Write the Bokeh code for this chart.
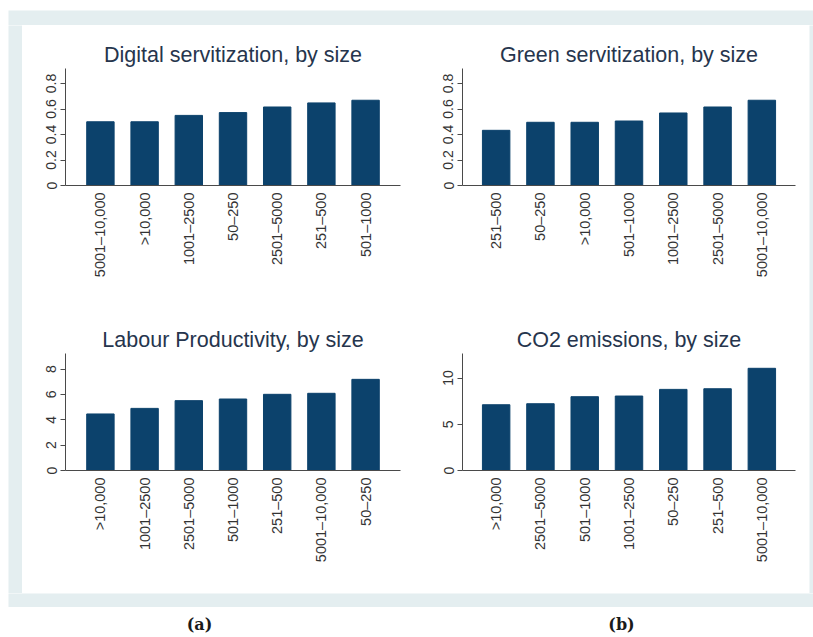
import math
from bokeh.plotting import figure
from bokeh.layouts import row, column
from bokeh.models import FactorRange, Range1d, FixedTicker, Label
from bokeh.embed import file_html
from bokeh.resources import INLINE

# ---------------- data ----------------
digital_title = "Digital servitization, by size"
digital_labels = ["5001–10,000", ">10,000", "1001–2500", "50–250", "2501–5000", "251–500", "501–1000"]
digital_values = [0.50, 0.50, 0.55, 0.572, 0.616, 0.648, 0.669]
digital_ticks = [0, 0.2, 0.4, 0.6, 0.8]
digital_tick_labels = ["0", "0.2", "0.4", "0.6", "0.8"]
digital_ymax = 0.918

green_title = "Green servitization, by size"
green_labels = ["251–500", "50–250", ">10,000", "501–1000", "1001–2500", "2501–5000", "5001–10,000"]
green_values = [0.433, 0.496, 0.496, 0.506, 0.569, 0.616, 0.669]
green_ticks = [0, 0.2, 0.4, 0.6, 0.8]
green_tick_labels = ["0", "0.2", "0.4", "0.6", "0.8"]
green_ymax = 0.918

labour_title = "Labour Productivity, by size"
labour_labels = [">10,000", "1001–2500", "2501–5000", "501–1000", "251–500", "5001–10,000", "50–250"]
labour_values = [4.46, 4.90, 5.51, 5.64, 6.01, 6.09, 7.19]
labour_ticks = [0, 2, 4, 6, 8]
labour_tick_labels = ["0", "2", "4", "6", "8"]
labour_ymax = 9.23

co2_title = "CO2 emissions, by size"
co2_labels = [">10,000", "2501–5000", "501–1000", "1001–2500", "50–250", "251–500", "5001–10,000"]
co2_values = [7.11, 7.22, 7.98, 8.05, 8.77, 8.84, 11.05]
co2_ticks = [0, 5, 10]
co2_tick_labels = ["0", "5", "10"]
co2_ymax = 12.65

panel_tags = ["(a)", "(b)"]

# ---------------- style ----------------
BAR = "#0c426c"
FRAME = "#e4eef0"
TITLE_COLOR = "#26354d"
TEXT_COLOR = "#333333"
AXIS_COLOR = "#4a4a4a"
FONT = "Liberation Sans"


def panel(title, labels, values, ticks, tick_labels, ymax, width, height,
          bl, br, bt, bb, pad):
    xr = FactorRange(factors=labels, range_padding=pad, range_padding_units="absolute")
    p = figure(x_range=xr, y_range=Range1d(0, ymax), width=width, height=height,
               output_backend="svg", toolbar_location=None,
               min_border_left=bl, min_border_right=br,
               min_border_top=bt, min_border_bottom=bb,
               title=title)
    p.vbar(x=labels, top=values, width=0.62, fill_color=BAR, line_color=BAR)
    p.background_fill_color = "white"
    p.border_fill_color = "white"
    p.outline_line_color = None
    p.xgrid.grid_line_color = None
    p.ygrid.grid_line_color = None

    p.title.text_font = FONT
    p.title.text_font_size = "21.5px"
    p.title.text_font_style = "normal"
    p.title.text_color = TITLE_COLOR
    p.title.align = "center"
    p.title.standoff = 4

    xa = p.xaxis[0]
    xa.axis_line_color = AXIS_COLOR
    xa.axis_line_width = 1
    xa.major_tick_line_color = None
    xa.major_tick_out = 0
    xa.major_tick_in = 0
    xa.minor_tick_line_color = None
    xa.major_label_orientation = math.pi / 2
    xa.major_label_standoff = 7
    xa.major_label_text_font = FONT
    xa.major_label_text_font_size = "14.5px"
    xa.major_label_text_color = TEXT_COLOR

    ya = p.yaxis[0]
    ya.ticker = FixedTicker(ticks=ticks)
    ya.major_label_overrides = {t: s for t, s in zip(ticks, tick_labels)}
    ya.axis_line_color = AXIS_COLOR
    ya.axis_line_width = 1
    ya.major_tick_line_color = AXIS_COLOR
    ya.major_tick_out = 5
    ya.major_tick_in = 0
    ya.minor_tick_line_color = None
    ya.major_label_orientation = "vertical"
    ya.major_label_standoff = 4
    ya.major_label_text_font = FONT
    ya.major_label_text_font_size = "14px"
    ya.major_label_text_color = TEXT_COLOR
    return p


def strip(width, height, color):
    s = figure(width=width, height=height, output_backend="svg", toolbar_location=None,
               x_axis_type=None, y_axis_type=None, min_border=0)
    s.background_fill_color = color
    s.border_fill_color = color
    s.outline_line_color = None
    s.xgrid.grid_line_color = None
    s.ygrid.grid_line_color = None
    return s


LW, RW = 393, 394
TH, BH = 275, 293
TOTAL_W = 813

pa = panel(digital_title, digital_labels, digital_values, digital_ticks, digital_tick_labels,
           digital_ymax, LW, TH, 43, 15, 43, 115, 0.29)
pb = panel(green_title, green_labels, green_values, green_ticks, green_tick_labels,
           green_ymax, RW, TH, 47, 14, 43, 115, 0.26)
pc = panel(labour_title, labour_labels, labour_values, labour_ticks, labour_tick_labels,
           labour_ymax, LW, BH, 43, 15, 53, 123, 0.29)
pd = panel(co2_title, co2_labels, co2_values, co2_ticks, co2_tick_labels,
           co2_ymax, RW, BH, 47, 14, 53, 123, 0.26)

grid = column(row(pa, pb), row(pc, pd))

white_top = strip(TOTAL_W, 10, "white")
frame_top = row(strip(8, 15, "white"), strip(TOTAL_W - 8, 15, FRAME))
mid = row(strip(8, TH + BH, "white"), strip(14, TH + BH, FRAME), grid,
          strip(4, TH + BH, FRAME))
frame_bottom = row(strip(8, 14, "white"), strip(TOTAL_W - 8, 14, FRAME))

lab = strip(TOTAL_W, 30, "white")
for tag, xpos in zip(panel_tags, [199, 621]):
    lab.add_layout(Label(x=xpos, y=13, x_units="screen", y_units="screen", text=tag,
                         text_align="center", text_baseline="middle",
                         text_font="DejaVu Serif", text_font_style="bold",
                         text_font_size="16px", text_color="#1a1a1a"))

layout = column(white_top, frame_top, mid, frame_bottom, lab)

open("out.html", "w").write(file_html(layout, INLINE))
